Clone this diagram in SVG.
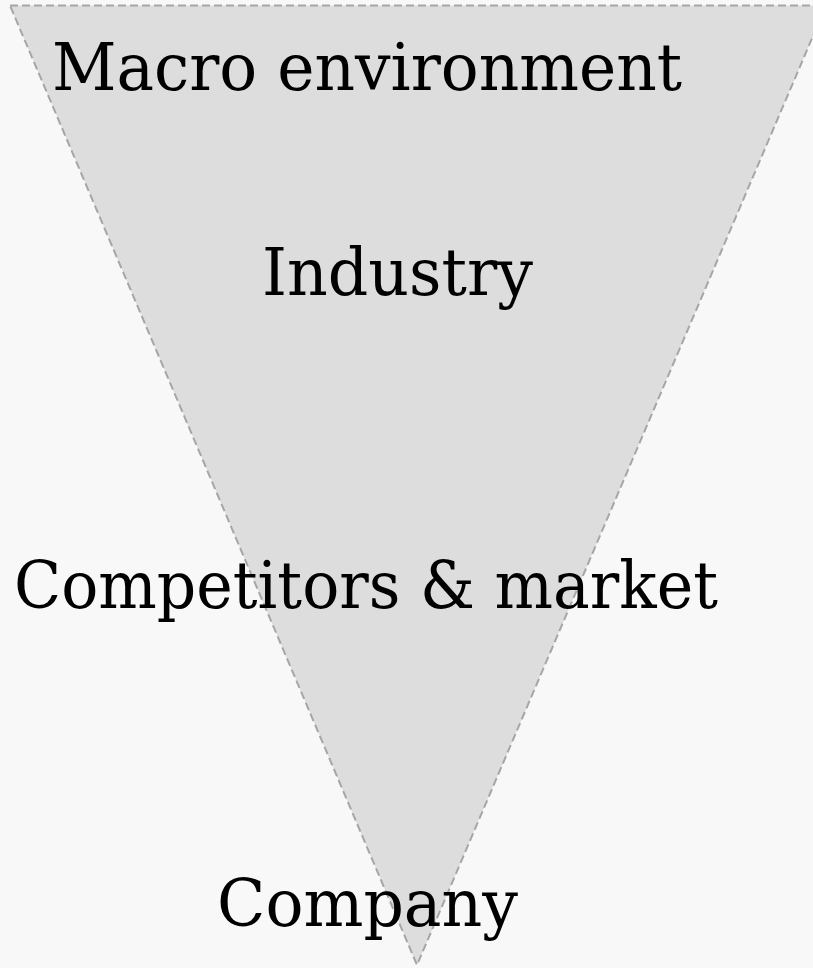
<svg xmlns="http://www.w3.org/2000/svg" width="813" height="968" viewBox="0 0 813 968">
<style>
.lbl{font-family:"DejaVu Serif","Liberation Serif",serif;font-size:65px;fill:#000}
.tri{fill:#dddddd;stroke:#a6a6a6;stroke-width:2;stroke-dasharray:8 4}
</style>
<rect x="0" y="0" width="813" height="968" fill="#f8f8f8"/>
<g id="funnel">
<polygon class="tri" points="10,5.5 826,5.5 417,965"/>
</g>
<g id="connectors"></g>
<g id="macro"><text class="lbl" x="52" y="90" textLength="630" lengthAdjust="spacingAndGlyphs">Macro environment</text></g>
<g id="industry"><text class="lbl" x="262" y="295" textLength="271" lengthAdjust="spacingAndGlyphs">Industry</text></g>
<g id="competitors"><text class="lbl" x="14" y="608" textLength="704" lengthAdjust="spacingAndGlyphs">Competitors &amp; market</text></g>
<g id="company"><text class="lbl" x="217" y="926" textLength="301" lengthAdjust="spacingAndGlyphs">Company</text></g>
</svg>
